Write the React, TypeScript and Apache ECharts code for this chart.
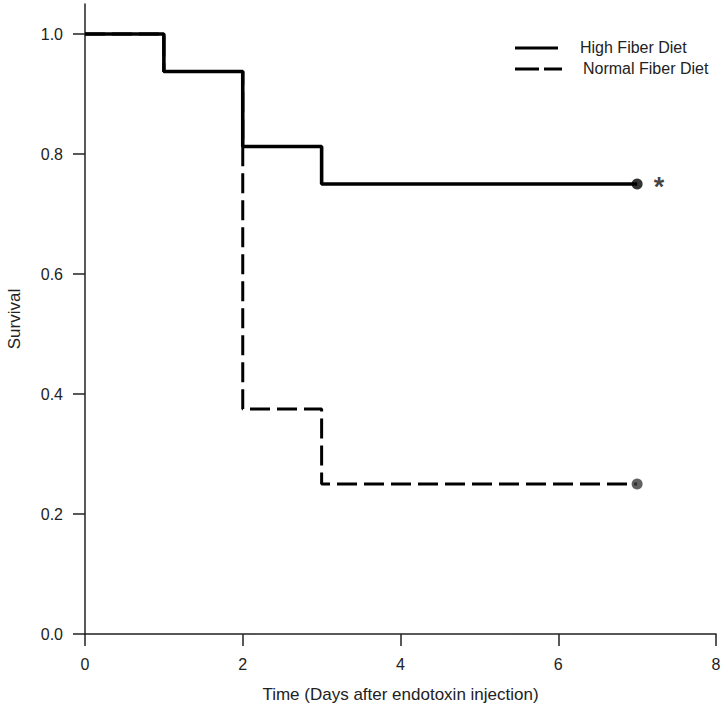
import React, { useEffect, useRef } from 'react';
import * as echarts from 'echarts';

const seriesNames = ['High Fiber Diet', 'Normal Fiber Diet'];
const highFiberTimes = [0, 1, 2, 3, 7];
const highFiberSurvival = [1.0, 0.9375, 0.8125, 0.75, 0.75];
const normalFiberTimes = [0, 1, 2, 3, 7];
const normalFiberSurvival = [1.0, 0.9375, 0.375, 0.25, 0.25];
const xTicks = [0, 2, 4, 6, 8];
const yTicks = [0, 0.2, 0.4, 0.6, 0.8, 1.0];
const xTitle = 'Time (Days after endotoxin injection)';
const yTitle = 'Survival';
const significanceMark = '*';

const FONT = '"Liberation Sans", Arial, Helvetica, sans-serif';
const TEXT = '#222';

export default function App() {
  const ref = useRef<HTMLDivElement>(null);
  useEffect(() => {
    document.body.style.margin = '0';
    if (!ref.current) return;
    const chart = echarts.init(ref.current, null, { renderer: 'svg' });
    const hf = highFiberTimes.map((t, i) => [t, highFiberSurvival[i]]);
    const nf = normalFiberTimes.map((t, i) => [t, normalFiberSurvival[i]]);
    const last = (a: number[][]) => a[a.length - 1];
    chart.setOption({
      animation: false,
      backgroundColor: '#fff',
      textStyle: { fontFamily: FONT },
      grid: { left: 85, right: 9, top: 4, bottom: 84, containLabel: false, outerBoundsMode: 'none' },
      xAxis: {
        type: 'value',
        min: 0,
        max: 8,
        interval: 2,
        name: xTitle,
        nameLocation: 'middle',
        nameGap: 52,
        nameTextStyle: { fontSize: 17, color: TEXT, fontFamily: FONT },
        axisLine: { show: true, onZero: false, lineStyle: { color: '#222', width: 1.5 } },
        axisTick: { show: true, length: 12, lineStyle: { color: '#222', width: 1.5 }, customValues: xTicks },
        axisLabel: { fontSize: 16, color: TEXT, margin: 22, fontFamily: FONT, customValues: xTicks },
        splitLine: { show: false },
      },
      yAxis: {
        type: 'value',
        min: 0,
        max: 1.05,
        name: yTitle,
        nameLocation: 'middle',
        nameGap: 62,
        nameRotate: 90,
        nameTextStyle: { fontSize: 17, color: TEXT, fontFamily: FONT },
        axisLine: { show: true, onZero: false, lineStyle: { color: '#222', width: 1.5 } },
        axisTick: { show: true, length: 12, lineStyle: { color: '#222', width: 1.5 }, customValues: yTicks },
        axisLabel: {
          fontSize: 16,
          color: TEXT,
          margin: 22,
          fontFamily: FONT,
          customValues: yTicks,
          formatter: (v: number) => v.toFixed(1),
        },
        splitLine: { show: false },
      },
      series: [
        {
          name: seriesNames[1],
          type: 'line',
          step: 'end',
          data: nf,
          symbol: 'none',
          z: 2,
          lineStyle: { color: '#000', width: 3, type: [20, 7] },
        },
        {
          name: seriesNames[0],
          type: 'line',
          step: 'end',
          data: hf,
          symbol: 'none',
          z: 3,
          lineStyle: { color: '#000', width: 3.6, type: 'solid' },
        },
        {
          name: seriesNames[1] + ' end',
          type: 'scatter',
          data: [last(nf)],
          symbol: 'circle',
          symbolSize: 11,
          z: 4,
          itemStyle: { color: '#3a3a3a' },
        },
        {
          name: seriesNames[0] + ' end',
          type: 'scatter',
          data: [last(hf)],
          symbol: 'circle',
          symbolSize: 11,
          z: 4,
          itemStyle: { color: '#000' },
          label: {
            show: true,
            position: 'right',
            distance: 10,
            formatter: significanceMark,
            fontSize: 27,
            fontWeight: 'bold',
            color: '#111',
            fontFamily: FONT,
            offset: [1, 3],
          },
        },
      ],
      graphic: [
        { type: 'line', shape: { x1: 515, y1: 48, x2: 558, y2: 48 }, style: { stroke: '#000', lineWidth: 3 } },
        {
          type: 'text',
          x: 580,
          y: 47,
          style: { text: seriesNames[0], fontSize: 16, fontFamily: FONT, fill: TEXT, verticalAlign: 'middle', align: 'left' },
        },
        {
          type: 'line',
          shape: { x1: 515, y1: 69, x2: 562, y2: 69 },
          style: { stroke: '#000', lineWidth: 3, lineDash: [24, 5] },
        },
        {
          type: 'text',
          x: 583,
          y: 68,
          style: { text: seriesNames[1], fontSize: 16, fontFamily: FONT, fill: TEXT, verticalAlign: 'middle', align: 'left' },
        },
      ],
    });
    return () => chart.dispose();
  }, []);
  return <div ref={ref} style={{ width: 725, height: 718 }} />;
}
